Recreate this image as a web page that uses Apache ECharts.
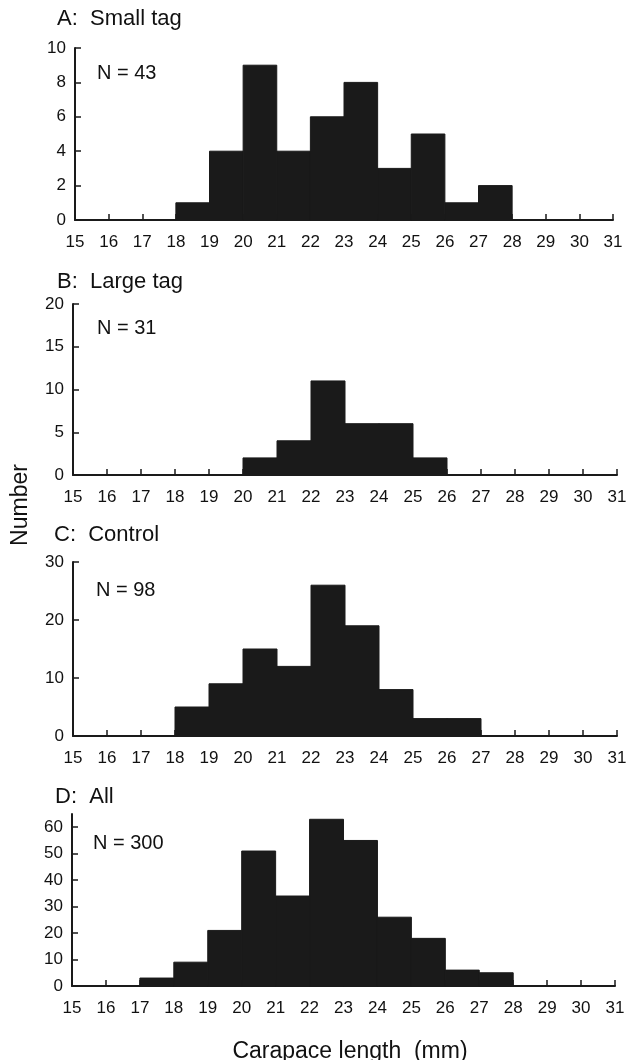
<!DOCTYPE html>
<html>
<head>
<meta charset="utf-8">
<style>
  html, body { margin: 0; padding: 0; background: #fff; }
  #main { width: 631px; height: 1060px; }
</style>
<script src="https://cdn.jsdelivr.net/npm/echarts@6/dist/echarts.min.js"></script>
</head>
<body>
<div id="main"></div>
<script>
// bin left edges (mm), 15-16 ... 30-31
var binStarts = [15, 16, 17, 18, 19, 20, 21, 22, 23, 24, 25, 26, 27, 28, 29, 30];
var xTicks = [15, 16, 17, 18, 19, 20, 21, 22, 23, 24, 25, 26, 27, 28, 29, 30, 31];

// counts per bin
var smallTag = [0, 0, 0, 1, 4, 9, 4, 6, 8, 3, 5, 1, 2, 0, 0, 0];
var largeTag = [0, 0, 0, 0, 0, 2, 4, 11, 6, 6, 2, 0, 0, 0, 0, 0];
var control  = [0, 0, 0, 5, 9, 15, 12, 26, 19, 8, 3, 3, 0, 0, 0, 0];
var allCrabs = [0, 0, 3, 9, 21, 51, 34, 63, 55, 26, 18, 6, 5, 0, 0, 0];

var panelTitles = ['A:  Small tag', 'B:  Large tag', 'C:  Control', 'D:  All'];
var sampleSizes = [43, 31, 98, 300];

var yMax = [10, 20, 30, 65];
var yStep = [2, 5, 10, 10];
var yTicksD = [0, 10, 20, 30, 40, 50, 60];

var FONT = 'Liberation Sans, Arial, sans-serif';
var INK = '#1a1a1a';

var myChart = echarts.init(document.getElementById('main'));

// panel boxes in px
var grids = [
    { left: 75, right: 18, top: 48, height: 172 },
    { left: 73, right: 14, top: 304, height: 171 },
    { left: 73, right: 14, top: 562, height: 174 },
    { left: 72, right: 16, top: 814, height: 172 }
];
var titlePos = [[57, 19], [57, 282], [54, 535], [55, 797]];
var nPos = [[97, 73], [97, 328], [96, 590], [93, 843]];

var datasets = [smallTag, largeTag, control, allCrabs];

var xAxes = [], yAxes = [], series = [], texts = [];
grids.forEach(function (g, i) {
    xAxes.push({
        type: 'value', gridIndex: i, min: 15, max: 31, interval: 1,
        axisLine: { lineStyle: { color: INK, width: 2 } },
        axisTick: { inside: true, length: 6, lineStyle: { color: INK, width: 1.5 } },
        axisLabel: { color: '#111', fontSize: 17, fontFamily: FONT, margin: 14,
            customValues: xTicks },
        splitLine: { show: false }
    });
    var ya = {
        type: 'value', gridIndex: i, min: 0, max: yMax[i], interval: yStep[i],
        axisLine: { show: true, lineStyle: { color: INK, width: 2 } },
        axisTick: { show: true, inside: true, length: 6, lineStyle: { color: INK, width: 1.5 } },
        axisLabel: { color: '#111', fontSize: 17, fontFamily: FONT, margin: 9 },
        splitLine: { show: false }
    };
    if (i === 3) {
        ya.axisLabel.customValues = yTicksD;
        ya.axisTick.customValues = yTicksD;
    }
    yAxes.push(ya);

    series.push({
        type: 'custom', xAxisIndex: i, yAxisIndex: i,
        data: binStarts.map(function (b, k) { return [b, datasets[i][k]]; }),
        encode: { x: 0, y: 1 },
        renderItem: function (params, api) {
            var x0 = api.value(0), v = api.value(1);
            if (!v) return null;
            var p0 = api.coord([x0, v]);
            var p1 = api.coord([x0 + 1, 0]);
            return {
                type: 'rect',
                shape: { x: p0[0], y: p0[1], width: p1[0] - p0[0], height: p1[1] - p0[1] },
                style: { fill: INK, stroke: INK, lineWidth: 1 }
            };
        }
    });

    texts.push({
        type: 'text', x: titlePos[i][0], y: titlePos[i][1],
        style: { text: panelTitles[i], fontSize: 22, fontFamily: FONT, fill: '#111',
            verticalAlign: 'middle' }
    });
    texts.push({
        type: 'text', x: nPos[i][0], y: nPos[i][1],
        style: { text: 'N = ' + sampleSizes[i], fontSize: 20, fontFamily: FONT, fill: '#111',
            verticalAlign: 'middle' }
    });
});

texts.push({
    type: 'text', x: 21, y: 505, rotation: Math.PI / 2,
    style: { text: 'Number', fontSize: 23, fontFamily: FONT, fill: '#111',
        align: 'center', verticalAlign: 'middle' }
});
texts.push({
    type: 'text', x: 350, y: 1052,
    style: { text: 'Carapace length  (mm)', fontSize: 23, fontFamily: FONT, fill: '#111',
        align: 'center', verticalAlign: 'middle' }
});

myChart.setOption({
    animation: false,
    grid: grids,
    xAxis: xAxes,
    yAxis: yAxes,
    series: series,
    graphic: texts
});
</script>
</body>
</html>
